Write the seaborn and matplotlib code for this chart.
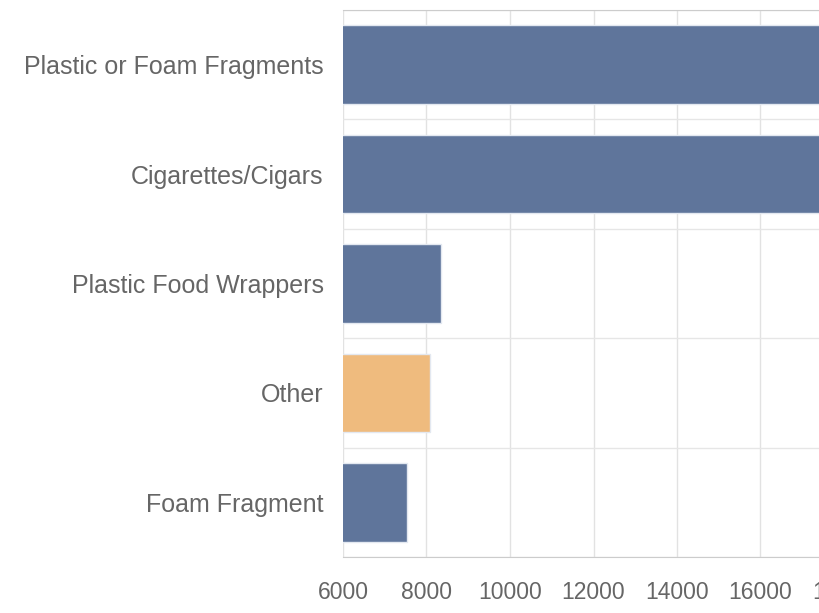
import matplotlib
matplotlib.use("Agg")
import pandas as pd
import seaborn as sns
import matplotlib.pyplot as plt
from matplotlib.ticker import FixedLocator

# values (top two run past the right edge)
categories = ["Plastic or Foam Fragments", "Cigarettes/Cigars", "Plastic Food Wrappers", "Other", "Foam Fragment"]
counts = [21000, 19500, 8350, 8080, 7530]
bar_colors = ["#5f759b", "#5f759b", "#5f759b", "#efbb7e", "#5f759b"]
x_ticks = [6000, 8000, 10000, 12000, 14000, 16000, 18000, 20000]

data = pd.DataFrame({"category": categories, "count": counts})

sns.set_style("white")
plt.rcParams["font.family"] = ["Liberation Sans", "DejaVu Sans"]

fig = plt.figure(figsize=(8.2, 6.13), dpi=100)
# axes runs past the right edge of the figure, like the cropped original
ax = fig.add_axes([343 / 820, 1 - 557 / 613, 584.5 / 820, 547 / 613])

sns.barplot(data=data, x="count", y="category", hue="category", palette=bar_colors,
            legend=False, width=0.72, saturation=1, edgecolor="#e3e8f0", linewidth=1, ax=ax)

ax.set_xlim(6000, 20000)
ax.set_ylim(4.5, -0.5)
ax.set_xticks(x_ticks)
ax.yaxis.set_minor_locator(FixedLocator([i - 0.5 for i in range(len(categories) + 1)]))
ax.set_axisbelow(True)
ax.grid(axis="x", which="major", color="#e2e2e2", linewidth=1)
ax.grid(axis="y", which="minor", color="#e6e6e6", linewidth=1)

ax.tick_params(axis="x", which="major", length=15, color="#e2e2e2", width=1,
               labelsize=16.5, labelcolor="#666666", pad=2)
ax.tick_params(axis="y", which="major", length=0, labelsize=18, labelcolor="#666666", pad=14)
ax.tick_params(axis="y", which="minor", length=15, color="#e6e6e6", width=1)

for side in ["left", "right"]:
    ax.spines[side].set_visible(False)
ax.spines["top"].set_color("#cccccc")
ax.spines["bottom"].set_color("#cccccc")
ax.set_xlabel("")
ax.set_ylabel("")

fig.savefig("out.png", dpi=100)
